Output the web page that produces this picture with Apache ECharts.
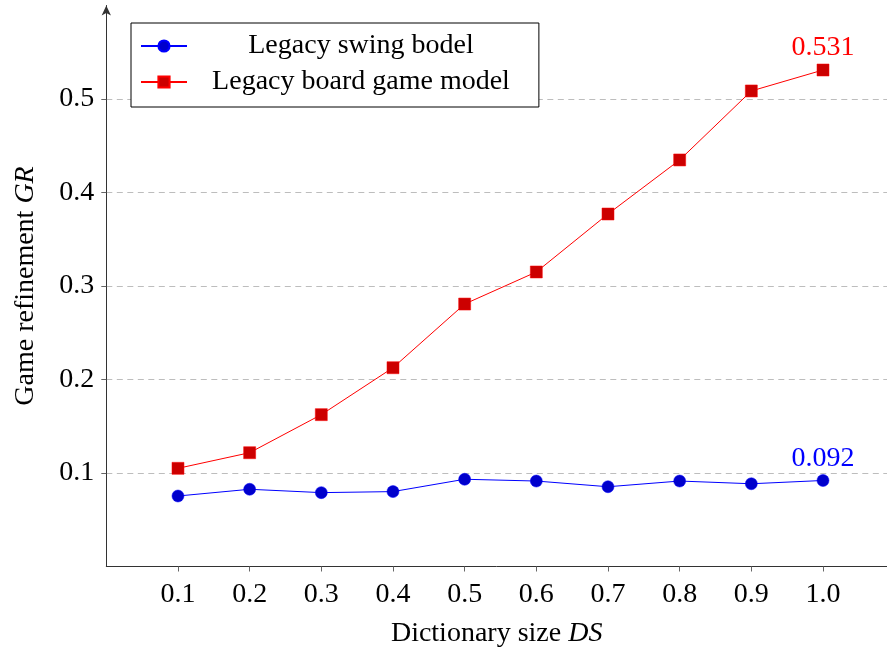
<!DOCTYPE html>
<html>
<head>
<meta charset="utf-8">
<script src="https://cdn.jsdelivr.net/npm/echarts@6/dist/echarts.min.js"></script>
<style>
html,body{margin:0;padding:0;background:#fff;}
#chart{width:887px;height:648px;}
</style>
</head>
<body>
<div id="chart"></div>
<script>
const dictSizes = [0.1, 0.2, 0.3, 0.4, 0.5, 0.6, 0.7, 0.8, 0.9, 1.0];
const swingModel = [0.0754, 0.0826, 0.0790, 0.0801, 0.0933, 0.0914, 0.0853, 0.0914, 0.0885, 0.092];
const boardModel = [0.105, 0.1217, 0.1624, 0.2126, 0.2807, 0.315, 0.377, 0.4348, 0.5086, 0.531];
const seriesNames = ['Legacy swing bodel', 'Legacy board game model'];
const xTicks = [0.1, 0.2, 0.3, 0.4, 0.5, 0.6, 0.7, 0.8, 0.9, 1.0];
const yTicks = [0.1, 0.2, 0.3, 0.4, 0.5];

const FONT = '"Liberation Serif", "Times New Roman", serif';
const FS = 28;

function buildData(vals, color) {
  return dictSizes.map((x, i) => i === vals.length - 1
    ? { value: [x, vals[i]], label: { show: true, position: 'top', distance: 2, color: color,
        fontFamily: FONT, fontSize: FS, formatter: p => p.value[1].toFixed(3) } }
    : [x, vals[i]]);
}

const chart = echarts.init(document.getElementById('chart'));
chart.setOption({
  backgroundColor: '#fff',
  animation: false,
  grid: { left: 106.3, top: 5.5, right: 0, height: 561, outerBoundsMode: 'none', containLabel: false },
  legend: {
    left: 131, top: 23,
    orient: 'vertical',
    backgroundColor: '#fff',
    borderColor: '#000', borderWidth: 1,
    padding: [9, 29, 11, 9],
    itemWidth: 46, itemHeight: 14, itemGap: 8,
    data: seriesNames,
    formatter: n => '{t|' + n + '}',
    textStyle: {
      fontFamily: FONT, fontSize: FS, color: '#000',
      rich: { t: { width: 338, align: 'center', fontFamily: FONT, fontSize: FS } }
    }
  },
  xAxis: {
    type: 'value', min: 0, max: 1.0893,
    name: '{n|Dictionary size }{i|DS}',
    nameLocation: 'middle', nameGap: 53,
    nameTextStyle: { rich: {
      n: { fontFamily: FONT, fontSize: FS, color: '#000' },
      i: { fontFamily: FONT, fontSize: FS, fontStyle: 'italic', color: '#000' } } },
    axisLine: { show: true, lineStyle: { color: '#333', width: 1 } },
    axisTick: { show: true, length: 5, customValues: xTicks, lineStyle: { color: '#666' } },
    axisLabel: { customValues: xTicks, margin: 14, fontFamily: FONT, fontSize: FS, color: '#000',
      formatter: v => v.toFixed(1) },
    splitLine: { show: false }
  },
  yAxis: {
    type: 'value', min: 0, max: 0.6, interval: 0.1,
    name: '{n|Game refinement }{i|GR}',
    nameLocation: 'middle', nameGap: 67,
    nameTextStyle: { rich: {
      n: { fontFamily: FONT, fontSize: FS, color: '#000' },
      i: { fontFamily: FONT, fontSize: FS, fontStyle: 'italic', color: '#000' } } },
    axisLine: { show: true, lineStyle: { color: '#333', width: 1 }, symbol: ['none', 'arrow'], symbolSize: [7, 10] },
    axisTick: { show: true, length: 5, customValues: yTicks, lineStyle: { color: '#666' } },
    axisLabel: { customValues: yTicks, margin: 12, fontFamily: FONT, fontSize: FS, color: '#000',
      formatter: v => v.toFixed(1) },
    splitLine: { show: true,
      lineStyle: { color: '#bdbdbd', type: [6, 4.5], width: 1 } }
  },
  series: [
    {
      name: seriesNames[0], type: 'line',
      data: buildData(swingModel, '#0000ff'),
      symbol: 'circle', symbolSize: 12,
      lineStyle: { color: '#0000ff', width: 1 },
      itemStyle: { color: '#0000cc', borderColor: '#0000ff', borderWidth: 0.5 },
      z: 3
    },
    {
      name: seriesNames[1], type: 'line',
      data: buildData(boardModel, '#ff0000'),
      symbol: 'rect', symbolSize: 12,
      lineStyle: { color: '#ff0000', width: 1 },
      itemStyle: { color: '#cc0000', borderColor: '#ff0000', borderWidth: 0.5 },
      z: 4
    }
  ]
});
</script>
</body>
</html>
